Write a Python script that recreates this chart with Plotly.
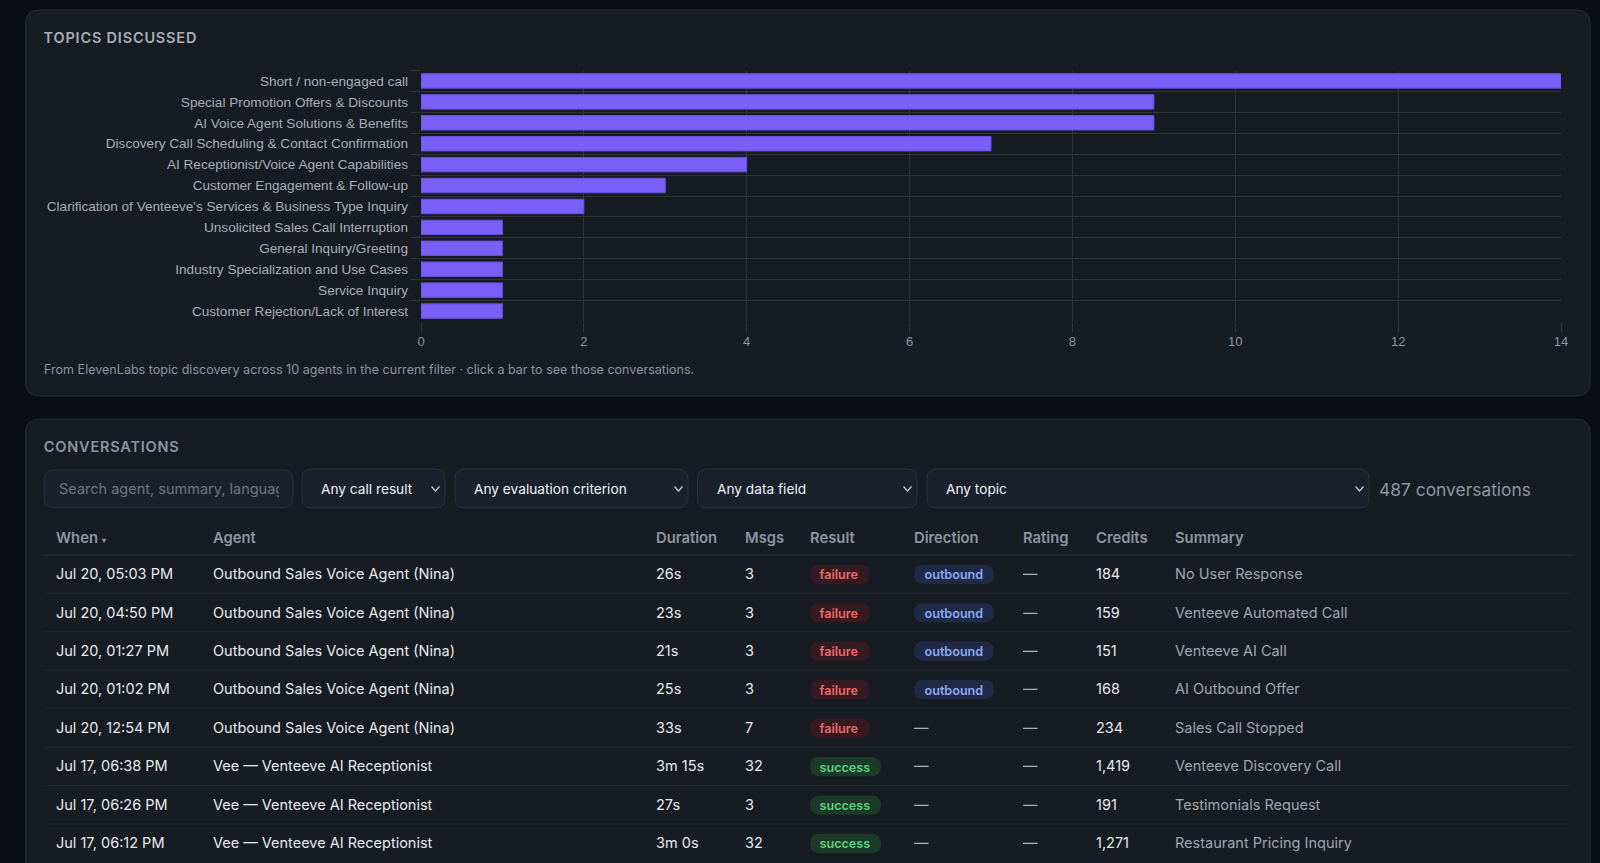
import plotly.graph_objects as go

W, H = 1600, 863

topics = ["Short / non-engaged call", "Special Promotion Offers & Discounts",
          "AI Voice Agent Solutions & Benefits", "Discovery Call Scheduling & Contact Confirmation",
          "AI Receptionist/Voice Agent Capabilities", "Customer Engagement & Follow-up",
          "Clarification of Venteeve's Services & Business Type Inquiry",
          "Unsolicited Sales Call Interruption", "General Inquiry/Greeting",
          "Industry Specialization and Use Cases", "Service Inquiry",
          "Customer Rejection/Lack of Interest"]
topic_counts = [14, 9, 9, 7, 4, 3, 2, 1, 1, 1, 1, 1]
x_ticks = [0, 2, 4, 6, 8, 10, 12, 14]

headers = ["When <span style=\"font-size:8px\">▾</span>", "Agent", "Duration", "Msgs", "Result",
           "Direction", "Rating", "Credits", "Summary"]
when = ["Jul 20, 05:03 PM", "Jul 20, 04:50 PM", "Jul 20, 01:27 PM", "Jul 20, 01:02 PM",
        "Jul 20, 12:54 PM", "Jul 17, 06:38 PM", "Jul 17, 06:26 PM", "Jul 17, 06:12 PM"]
agent = ["Outbound Sales Voice Agent (Nina)"] * 5 + ["Vee — Venteeve AI Receptionist"] * 3
duration = ["26s", "23s", "21s", "25s", "33s", "3m 15s", "27s", "3m 0s"]
msgs = ["3", "3", "3", "3", "7", "32", "3", "32"]
result = ["failure"] * 5 + ["success"] * 3
direction = ["outbound"] * 4 + ["—"] * 4
rating = ["—"] * 8
credits = ["184", "159", "151", "168", "234", "1,419", "191", "1,271"]
summary = ["No User Response", "Venteeve Automated Call", "Venteeve AI Call", "AI Outbound Offer",
           "Sales Call Stopped", "Venteeve Discovery Call", "Testimonials Request",
           "Restaurant Pricing Inquiry"]
filters = ["Any call result", "Any evaluation criterion", "Any data field", "Any topic"]

PAGE = "#0b0e13"
CARD = "#171b22"
CARD_LINE = "#272c37"
GRID = "#30343f"
BAR = "#7a60f8"
BAR_LINE = "#6650dc"
MUTED = "#8d95a3"
LABEL = "#a9aeb8"
TEXT = "#e8eaee"
INTER = "Inter, sans-serif"
CHART_FONT = "Liberation Sans, Arial, sans-serif"

COL_X = [56, 213, 656, 745, 810, 914, 1023, 1096, 1175]
ROW_Y = [574 + i * 38.45 for i in range(len(when))]
TEXT_Y = [y + 1.5 for y in ROW_Y]
PILLS = {"failure": (60, "#361a20", "#ee6a6c"), "success": (71, "#1b3a27", "#60cf7e"),
         "outbound": (80, "#1f2a47", "#8ea8f4")}


def px(x):
    return x / W


def py(y):
    return 1 - y / H


def rounded(x0, y0, x1, y1, r, fill, line=None):
    p = (f"M {px(x0 + r)} {py(y0)} L {px(x1 - r)} {py(y0)} Q {px(x1)} {py(y0)} {px(x1)} {py(y0 + r)} "
         f"L {px(x1)} {py(y1 - r)} Q {px(x1)} {py(y1)} {px(x1 - r)} {py(y1)} "
         f"L {px(x0 + r)} {py(y1)} Q {px(x0)} {py(y1)} {px(x0)} {py(y1 - r)} "
         f"L {px(x0)} {py(y0 + r)} Q {px(x0)} {py(y0)} {px(x0 + r)} {py(y0)} Z")
    return dict(type="path", path=p, xref="paper", yref="paper", fillcolor=fill, layer="below",
                line=dict(color=line or fill, width=1 if line else 0))


def hline(x0, x1, y, color):
    return dict(type="line", xref="paper", yref="paper", x0=px(x0), x1=px(x1), y0=py(y), y1=py(y),
                layer="below", line=dict(color=color, width=1))


def chevron(x, y):
    p = f"M {px(x - 4)} {py(y - 2)} L {px(x)} {py(y + 2.5)} L {px(x + 4)} {py(y - 2)}"
    return dict(type="path", path=p, xref="paper", yref="paper", layer="above",
                line=dict(color="#c9cdd4", width=1.2))


def note(x, y, text, size, color, weight=400):
    return dict(x=px(x), y=py(y), xref="paper", yref="paper", text=text, showarrow=False,
                xanchor="left", yanchor="middle", borderpad=0,
                font=dict(family=INTER, size=size, color=color, weight=weight))


def column(x, texts, colors, size=14.5, weight=400, ys=None):
    return go.Scatter(x=[x] * len(texts), y=ys or TEXT_Y, text=texts, mode="text",
                      textposition="middle right", xaxis="x2", yaxis="y2", hoverinfo="skip",
                      textfont=dict(family=INTER, size=size, color=colors, weight=weight))


fig = go.Figure()
fig.add_trace(go.Bar(y=topics, x=topic_counts, orientation="h", width=0.69, showlegend=False,
                     marker=dict(color=BAR, line=dict(color=BAR_LINE, width=1))))

# header row and body columns of the conversations table
for x, h in zip(COL_X, headers):
    fig.add_trace(column(x, [h], MUTED, 14.8, 600, [539]))
for x, vals, color in [(COL_X[0], when, TEXT), (COL_X[1], agent, TEXT), (COL_X[2], duration, TEXT),
                       (COL_X[3], msgs, TEXT), (COL_X[6], rating, LABEL), (COL_X[7], credits, TEXT),
                       (COL_X[8], summary, "#a0a6b1")]:
    fig.add_trace(column(x, vals, color))
fig.add_trace(column(COL_X[4] + 9.5, result, [PILLS[r][2] for r in result], 12.6, 600,
                     [y + 0.7 for y in TEXT_Y]))
fig.add_trace(column(COL_X[5] + 10.5, [d if d != "—" else "" for d in direction], PILLS["outbound"][2],
                     12.6, 600, [y + 0.7 for y in TEXT_Y]))
fig.add_trace(column(COL_X[5], [d if d == "—" else "" for d in direction], LABEL))
# placeholder overflows its box, so it sits on its own clipped axis
fig.add_trace(go.Scatter(x=[59], y=[490], text=["Search agent, summary, language"], mode="text",
                         textposition="middle right", xaxis="x3", yaxis="y2", hoverinfo="skip",
                         cliponaxis=True, textfont=dict(family=INTER, size=14.5, color="#6e7582")))

shapes = [rounded(25.5, 10, 1590, 396, 14, CARD, CARD_LINE),
          rounded(25.5, 419, 1590, 890, 14, CARD, CARD_LINE),
          rounded(44, 470, 293, 507.5, 10, "#1b212c", "#2a303c"),
          hline(44, 1571, 555, "#2b303b")]
for y in ROW_Y[:-1]:
    shapes.append(hline(44, 1571, y + 19.3, "#21252e"))
for y, r, d in zip(ROW_Y, result, direction):
    shapes.append(rounded(COL_X[4], y - 9.3, COL_X[4] + PILLS[r][0], y + 10, 9.6, PILLS[r][1]))
    if d in PILLS:
        shapes.append(rounded(COL_X[5], y - 9.3, COL_X[5] + PILLS[d][0], y + 10, 9.6, PILLS[d][1]))

annotations = [note(49, 37, "TOPICS DISCUSSED", 14.5, LABEL, 600),
               note(48, 446.5, "CONVERSATIONS", 14.5, MUTED, 600),
               note(43, 369.5, "From ElevenLabs topic discovery across 10 agents in the current filter · "
                               "click a bar to see those conversations.", 12.55, MUTED),
               note(1378, 489, "487 conversations", 17.4, MUTED)]
for (x0, x1), label in zip([(302, 445), (455, 688), (697.5, 917), (927, 1369)], filters):
    shapes.append(rounded(x0, 469, x1, 508, 10, "#1b212c", "#2a303c"))
    shapes.append(chevron(x1 - 9.5, 488.5))
    annotations.append(note(x0 + 18, 488.5, label, 13.7, "#f0f1f4"))

fig.update_layout(
    width=W, height=H, margin=dict(l=0, r=0, t=0, b=0, autoexpand=False), showlegend=False,
    paper_bgcolor=PAGE, plot_bgcolor="rgba(0,0,0,0)", shapes=shapes, annotations=annotations,
    xaxis=dict(domain=[px(421), px(1561)], range=[0, 14], tickvals=x_ticks, ticks="outside", ticklen=9,
               tickcolor=GRID, gridcolor=GRID, showgrid=True, zeroline=False, showline=False,
               ticklabelstandoff=-1, tickfont=dict(family=CHART_FONT, size=13, color=MUTED)),
    yaxis=dict(domain=[py(321.5), py(70.5)], range=[11.5, -0.5], type="category", tickson="boundaries",
               ticks="outside", ticklen=9, tickcolor=GRID, gridcolor=GRID, showgrid=True, zeroline=False,
               showline=False, ticklabelstandoff=12, tickfont=dict(family=CHART_FONT, size=13.6, color=LABEL)),
    xaxis2=dict(domain=[0, 1], range=[0, W], visible=False, anchor="y2"),
    yaxis2=dict(domain=[0, 1], range=[H, 0], visible=False, anchor="x2"),
    xaxis3=dict(domain=[px(59), px(279)], range=[59, 279], visible=False, anchor="y2"),
)

# section titles are letter-spaced in the original
post = ("document.body.style.margin='0';document.body.style.overflow='hidden';"
        "document.querySelectorAll('.annotation-text').forEach(function(t){"
        "if(t.textContent==='TOPICS DISCUSSED'||t.textContent==='CONVERSATIONS'){t.style.letterSpacing='0.8px';}});")
fig.write_html("out.html", config=dict(displayModeBar=False), post_script=post)
